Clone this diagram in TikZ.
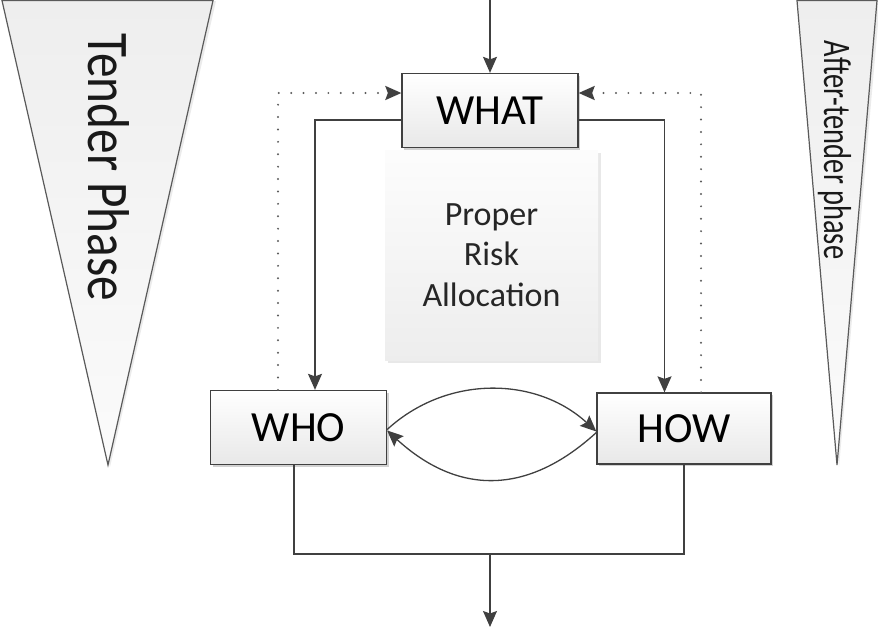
\documentclass[tikz,border=0pt]{standalone}
\usepackage{fontspec}
\setmainfont{Carlito}
\usetikzlibrary{arrows.meta,shadows}
\definecolor{ink}{HTML}{404040}
\definecolor{dotgray}{HTML}{5C5C5C}
\definecolor{edge}{HTML}{5A5A5A}
\definecolor{bannertop}{HTML}{EEEEEE}
\definecolor{bannerbottom}{HTML}{FBFBFB}
\begin{document}
\begin{tikzpicture}[x=1pt,y=-1pt,
  conn/.style={draw=ink, line width=1.3pt},
  tip/.style={-{Stealth[length=16pt,width=14pt,inset=2.5pt,color=ink]}},
  dots/.style={draw=dotgray, line width=2.2pt, line cap=round, dash pattern=on 0pt off 12.4pt},
  stage/.style={draw=ink, line width=1.3pt, top color=white, bottom color=black!9,
    minimum width=176pt, minimum height=74pt, inner sep=0pt,
    font=\fontsize{43}{50}\selectfont, text=black,
    drop shadow={shadow xshift=2pt, shadow yshift=-2pt, fill=black!18, opacity=1}},
  phase/.style={draw=edge, line width=1.2pt, top color=bannertop, bottom color=bannerbottom},
  banner/.style={rotate=-90, anchor=base, inner sep=0pt, text=black!90},
]
\useasboundingbox (0,0) rectangle (878,629);

% phase banners
\fill[black!8] (4,1) -- (216,1) -- (110,467) -- cycle;
\path[phase] (2,0.6) -- (213,0.6) -- (108,465) -- cycle;
\node[banner, font=\fontsize{59}{60}\selectfont] (tender) at (88,167.5)
  {\scalebox{0.835}[1]{Tender Phase}};

\fill[black!8] (799,1) -- (880,1) -- (839,467) -- cycle;
\path[phase] (797,0.6) -- (877,0.6) -- (837,465) -- cycle;
\node[banner, font=\fontsize{39}{40}\selectfont] (after) at (824,150)
  {\scalebox{0.73}[1]{After-tender phase}};

% central label
\fill[black!9] (388,153) rectangle (601,363);
\node[top color=black!1, bottom color=black!7, minimum width=213pt, minimum height=210pt,
  inner sep=0pt, align=center, font=\fontsize{34}{40.5}\selectfont, text=black!85]
  (alloc) at (491.5,255) {Proper\\Risk\\Allocation};

% stages
\node[stage] (what) at (490,110.5) {WHAT};
\node[stage] (who) at (298.5,427.5) {WHO};
\node[stage, minimum width=174pt, minimum height=71pt] (how) at (684,428.5) {HOW};

% connectors
\coordinate (in) at (490,0);
\coordinate (join) at (490,554);
\coordinate (out) at (490,627);

\draw[conn,tip] (in) -- (what.north);
\draw[conn,tip] ([yshift=-9.5pt]what.west) -| ([xshift=16.5pt]who.north);
\draw[conn,tip] ([yshift=-9.5pt]what.east) -| ([xshift=-19.5pt]how.north);

\draw[dots,tip] ([xshift=-20.5pt]who.north) |- ([yshift=17.5pt]what.west);
\draw[dots,tip] ([xshift=17pt]how.north) |- ([yshift=17.5pt]what.east);

\draw[conn,tip] ([yshift=-2pt]who.east) .. controls +(60,-55) and +(-60,-55) .. ([yshift=-3pt]how.west);
\draw[conn,tip] ([yshift=-4pt]how.west) .. controls +(-70,64) and +(70,64) .. ([yshift=-3pt]who.east);

\draw[conn] ([xshift=-4.5pt]who.south) |- (join) -| (how.south);
\draw[conn,tip] (join) -- (out);
\end{tikzpicture}
\end{document}
